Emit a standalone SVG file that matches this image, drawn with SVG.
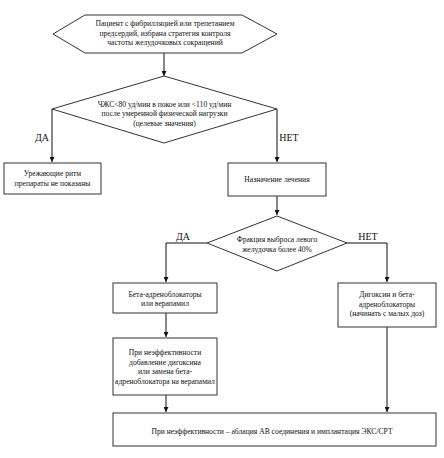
<svg xmlns="http://www.w3.org/2000/svg" width="444" height="458" viewBox="0 0 444 458">
<defs>
<marker id="ah" markerWidth="5" markerHeight="5" refX="5" refY="2.5" orient="auto" markerUnits="userSpaceOnUse">
<path d="M0,0 L5,2.5 L0,5 Z" fill="#111"/>
</marker>
<style>
.s{fill:#fff;stroke:#333;stroke-width:1}
.t{font-family:"Liberation Serif","Times New Roman",serif;font-size:7.6px;fill:#111;text-anchor:middle}
.l{font-family:"Liberation Serif","Times New Roman",serif;font-size:10px;fill:#111;text-anchor:middle}
.c{fill:none;stroke:#111;stroke-width:1;marker-end:url(#ah)}
</style>
</defs>
<rect width="444" height="458" fill="#fff"/>
<g id="connectors">
<path class="c" d="M164,53 V76"/>
<path class="c" d="M52,109 V162"/>
<path class="c" d="M277,109 V162"/>
<path class="c" d="M277,196 V215"/>
<path class="c" d="M207,243 H166 V282"/>
<path class="c" d="M347,243 H387 V282"/>
<path class="c" d="M166,313 V337"/>
<path class="c" d="M166,395 V412"/>
<path class="c" d="M387,327 V412"/>
<text class="l" x="42" y="141">ДА</text>
<text class="l" x="289" y="141">НЕТ</text>
<text class="l" x="183" y="240">ДА</text>
<text class="l" x="368" y="240">НЕТ</text>
</g>
<g id="start">
<polygon class="s" points="53,34 85,15 242,15 277,34 242,53 85,53"/>
<text class="t" x="165" y="26">Пациент с фибрилляцией или трепетанием</text>
<text class="t" x="165" y="35.5">предсердий, избрана стратегия контроля</text>
<text class="t" x="165" y="45">частоты желудочковых сокращений</text>
</g>
<g id="decision1">
<polygon class="s" points="164,76 277,109 164,143 52,109"/>
<text class="t" x="164.5" y="106.5">ЧЖС&lt;80 уд/мин в покое или &lt;110 уд/мин</text>
<text class="t" x="164.5" y="116">после умеренной физической нагрузки</text>
<text class="t" x="164.5" y="125.5">(целевые значения)</text>
</g>
<g id="no-drugs">
<rect class="s" x="4" y="163" width="97" height="31"/>
<text class="t" x="52.5" y="176">Урежающие ритм</text>
<text class="t" x="52.5" y="185.5">препараты не показаны</text>
</g>
<g id="treatment">
<rect class="s" x="228" y="163" width="98" height="33"/>
<text class="t" x="277" y="182">Назначение лечения</text>
</g>
<g id="decision2">
<polygon class="s" points="277,216 347,243 277,271 207,243"/>
<text class="t" x="277" y="242">Фракция выброса левого</text>
<text class="t" x="277" y="251.5">желудочка более 40%</text>
</g>
<g id="beta">
<rect class="s" x="113" y="283" width="104" height="30"/>
<text class="t" x="165" y="297">Бета-адреноблокаторы</text>
<text class="t" x="165" y="306">или верапамил</text>
</g>
<g id="digoxin">
<rect class="s" x="338" y="283" width="98" height="44"/>
<text class="t" x="387" y="297">Дигоксин и бета-</text>
<text class="t" x="387" y="306.5">адреноблокаторы</text>
<text class="t" x="387" y="316">(начинать с малых доз)</text>
</g>
<g id="ineffective">
<rect class="s" x="113" y="338" width="104" height="57"/>
<text class="t" x="165" y="354.5">При неэффективности</text>
<text class="t" x="165" y="364.5">добавление дигоксина</text>
<text class="t" x="165" y="374">или замена бета-</text>
<text class="t" x="165" y="384">адреноблокатора на верапамил</text>
</g>
<g id="ablation">
<rect class="s" x="113" y="413" width="323" height="33"/>
<text class="t" x="272" y="434">При неэффективности – аблация АВ соединения и имплантация ЭКС/СРТ</text>
</g>
</svg>
